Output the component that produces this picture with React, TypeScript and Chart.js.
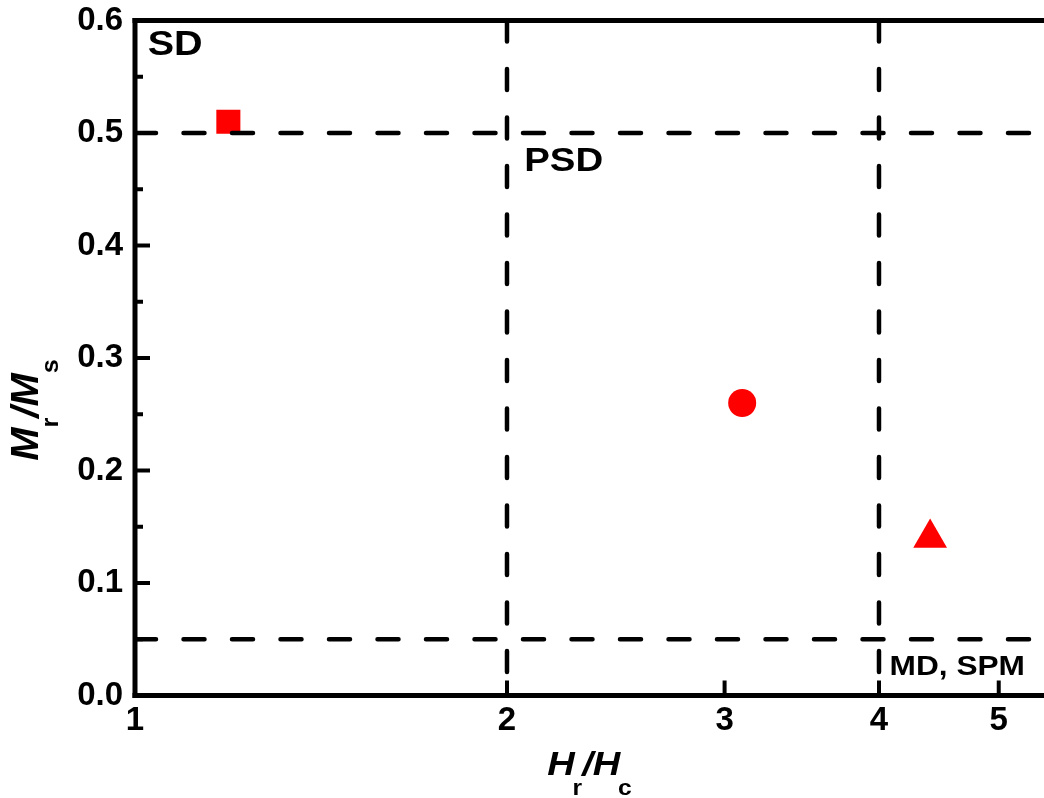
import React, { useEffect, useRef } from 'react';
import { Chart, registerables } from 'chart.js';

Chart.register(...registerables);

// ---- data ----
const hrHc = [1.19, 3.1, 4.4];
const mrMs = [0.51, 0.26, 0.14];
const markerShapes = ['rect', 'circle', 'triangle'];

const xTickValues = [1, 2, 3, 4, 5];
const yTickValues = [0, 0.1, 0.2, 0.3, 0.4, 0.5, 0.6];
const yMinorTickValues = [0.05, 0.15, 0.25, 0.35, 0.45, 0.55];

const xMin = 1;
const xMax = 5.44;
const yMin = 0;
const yMax = 0.6;

// Day-plot region boundaries
const hrHcBoundaries = [2, 4];
const mrMsBoundaries = [0.5, 0.05];

// Region labels and their anchor (data coordinates: left edge, baseline)
const regionLabels = ['SD', 'PSD', 'MD, SPM'];
const regionLabelX = [1.024, 2.065, 4.08];
const regionLabelY = [0.569, 0.466, 0.018];

const FONT = '"Liberation Sans", Arial, sans-serif';

type Part = { t: string; sub?: boolean };

function drawRich(
  ctx: CanvasRenderingContext2D,
  parts: Part[],
  mainFont: string,
  subFont: string,
  subDrop: number,
  subShift: number,
  sx: number
) {
  const items = parts.map((p) => {
    ctx.font = p.sub ? subFont : mainFont;
    return { ...p, w: ctx.measureText(p.t).width };
  });
  let total = 0;
  items.forEach((it) => {
    total += it.w + (it.sub ? subShift : 0);
  });
  ctx.save();
  ctx.scale(sx, 1);
  let x = -total / 2;
  ctx.textBaseline = 'alphabetic';
  ctx.textAlign = 'left';
  items.forEach((it) => {
    if (it.sub) x += subShift;
    ctx.font = it.sub ? subFont : mainFont;
    ctx.fillText(it.t, x, it.sub ? subDrop : 0);
    x += it.w;
  });
  ctx.restore();
}

const overlayPlugin = {
  id: 'overlay',
  afterDraw(chart: any) {
    const { ctx, chartArea: a, scales } = chart;
    const xs = scales.x;
    const ys = scales.y;
    ctx.save();
    ctx.strokeStyle = '#000';
    ctx.fillStyle = '#000';

    // inward ticks
    ctx.lineWidth = 4;
    ctx.lineCap = 'butt';
    const seg = (x1: number, y1: number, x2: number, y2: number) => {
      ctx.beginPath();
      ctx.moveTo(x1, y1);
      ctx.lineTo(x2, y2);
      ctx.stroke();
    };
    yTickValues.forEach((v) => {
      const py = ys.getPixelForValue(v);
      seg(a.left, py, a.left + 15, py);
    });
    yMinorTickValues.forEach((v) => {
      const py = ys.getPixelForValue(v);
      seg(a.left, py, a.left + 8, py);
    });
    xTickValues.slice(1).forEach((v) => {
      const px = xs.getPixelForValue(v);
      seg(px, a.bottom, px, a.bottom - 15);
    });

    // frame (left, bottom, top)
    ctx.lineWidth = 5;
    ctx.lineCap = 'square';
    seg(a.left, a.top, a.left, a.bottom);
    seg(a.left, a.bottom, a.right + 5, a.bottom);
    seg(a.left, a.top, a.right + 5, a.top);

    // region labels
    const labelSizes = [35, 34, 28];
    regionLabels.forEach((txt, i) => {
      const px = xs.getPixelForValue(regionLabelX[i]);
      const py = ys.getPixelForValue(regionLabelY[i]);
      ctx.save();
      ctx.translate(px, py);
      ctx.scale(1.13, 1);
      ctx.font = `bold ${labelSizes[i]}px ${FONT}`;
      ctx.textAlign = 'left';
      ctx.textBaseline = 'alphabetic';
      ctx.fillText(txt, 0, 0);
      ctx.restore();
    });

    // x title: H_r / H_c
    ctx.save();
    ctx.translate((a.left + a.right) / 2, 775);
    drawRich(
      ctx,
      [{ t: 'H' }, { t: 'r', sub: true }, { t: '/' }, { t: 'H' }, { t: 'c', sub: true }],
      `italic bold 34px ${FONT}`,
      `bold 22px ${FONT}`,
      20,
      -2,
      1.12
    );
    ctx.restore();

    // y title: M_r / M_s
    ctx.save();
    ctx.translate(38, 410);
    ctx.rotate(-Math.PI / 2);
    drawRich(
      ctx,
      [{ t: 'M' }, { t: 'r', sub: true }, { t: '/' }, { t: 'M' }, { t: 's', sub: true }],
      `italic bold 38px ${FONT}`,
      `bold 24px ${FONT}`,
      20,
      0,
      1.05
    );
    ctx.restore();

    ctx.restore();
  },
};

function dashed(points: { x: number; y: number }[]) {
  return {
    type: 'line' as const,
    data: points,
    showLine: true,
    borderColor: '#000',
    borderWidth: 4.5,
    borderDash: [21, 27.5],
    borderCapStyle: 'round' as const,
    pointRadius: 0,
    fill: false,
    order: 1,
  };
}

const zeroPad = (s: any) => {
  s.paddingTop = 0;
  s.paddingBottom = 0;
  s.paddingLeft = 0;
  s.paddingRight = 0;
};

export default function App() {
  const ref = useRef<HTMLCanvasElement | null>(null);

  useEffect(() => {
    if (!ref.current) return;
    const samples = hrHc.map((x, i) => ({ x, y: mrMs[i] }));
    const chart = new Chart(ref.current, {
      type: 'scatter',
      data: {
        datasets: [
          {
            data: samples,
            pointStyle: markerShapes as any,
            pointRadius: [17, 14, 19.5],
            pointBackgroundColor: '#ff0000',
            pointBorderWidth: 0,
            pointBorderColor: '#ff0000',
            order: 2,
          } as any,
          ...hrHcBoundaries.map((v) =>
            dashed([
              { x: v, y: yMax },
              { x: v, y: yMin },
            ])
          ),
          ...mrMsBoundaries.map((v) =>
            dashed([
              { x: xMin, y: v },
              { x: xMax, y: v },
            ])
          ),
        ],
      },
      options: {
        responsive: false,
        animation: false,
        devicePixelRatio: 1,
        layout: {
          autoPadding: false,
          padding: { top: 20.5, right: 0, left: 0, bottom: 0 },
        },
        plugins: {
          legend: { display: false },
          tooltip: { enabled: false },
        },
        scales: {
          x: {
            type: 'logarithmic',
            min: xMin,
            max: xMax,
            position: 'bottom',
            grid: { display: false, drawTicks: false },
            border: { display: false },
            afterBuildTicks: (s: any) => {
              s.ticks = xTickValues.map((v) => ({ value: v }));
            },
            afterFit: (s: any) => {
              s.height = 102.5;
              zeroPad(s);
            },
            ticks: {
              color: '#000',
              padding: 6,
              maxRotation: 0,
              autoSkip: false,
              font: { family: FONT, size: 33, weight: 'bold' },
              callback: (v: any) => String(v),
            },
          },
          y: {
            type: 'linear',
            min: yMin,
            max: yMax,
            grid: { display: false, drawTicks: false },
            border: { display: false },
            afterBuildTicks: (s: any) => {
              s.ticks = yTickValues.map((v) => ({ value: v }));
            },
            afterFit: (s: any) => {
              s.width = 135;
              zeroPad(s);
            },
            ticks: {
              color: '#000',
              padding: 12,
              autoSkip: false,
              font: { family: FONT, size: 33, weight: 'bold' },
              callback: (v: any) => Number(v).toFixed(1),
            },
          },
        },
      } as any,
      plugins: [overlayPlugin],
    });
    return () => chart.destroy();
  }, []);

  return (
    <div
      style={{
        position: 'fixed',
        left: 0,
        top: 0,
        width: 1044,
        height: 798,
        background: '#fff',
      }}
    >
      <canvas ref={ref} width={1044} height={798} />
    </div>
  );
}
